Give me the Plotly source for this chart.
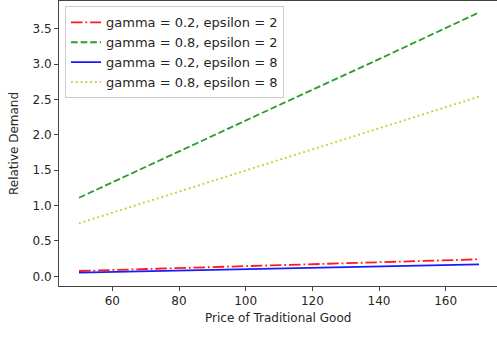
import plotly.graph_objects as go

price = [50, 80, 110, 140, 170]
g02_e2 = [0.075, 0.117, 0.158, 0.199, 0.240]
g08_e2 = [1.11, 1.77, 2.42, 3.07, 3.73]
g02_e8 = [0.053, 0.083, 0.112, 0.141, 0.170]
g08_e8 = [0.75, 1.20, 1.64, 2.09, 2.54]

names = ["gamma = 0.2, epsilon = 2", "gamma = 0.8, epsilon = 2",
         "gamma = 0.2, epsilon = 8", "gamma = 0.8, epsilon = 8"]
series = [g02_e2, g08_e2, g02_e8, g08_e8]
colors = ["#ff1a1a", "#2a9d2a", "#1a1aff", "#c8c820"]
dashes = ["11.5px,2.9px,1.8px,2.9px", "6.7px,2.9px", "solid", "1.8px,3px"]

fig = go.Figure()
for n, s, c, d in zip(names, series, colors, dashes):
    fig.add_trace(go.Scatter(x=price, y=s, mode="lines", name=n,
                             line=dict(color=c, width=1.8, dash=d)))

font = "DejaVu Sans"
axis_common = dict(showgrid=False, zeroline=False, showline=True, linecolor="#444",
                   linewidth=1, ticks="outside", ticklen=4, tickcolor="#444",
                   tickfont=dict(family=font, size=12, color="#262626"),
                   automargin=False)
fig.update_layout(
    width=497, height=338,
    margin=dict(l=59, r=0, t=1, b=52),
    plot_bgcolor="white", paper_bgcolor="white",
    xaxis=dict(range=[44.0, 175.4], tickvals=[60, 80, 100, 120, 140, 160],
               mirror=True, **axis_common),
    yaxis=dict(range=[-0.137, 3.892], tickvals=[0, 0.5, 1, 1.5, 2, 2.5, 3, 3.5],
               tickformat=".1f", **axis_common),
    legend=dict(x=0.0137, y=0.981, xanchor="left", yanchor="top",
                bgcolor="rgba(255,255,255,0.8)", bordercolor="#cccccc", borderwidth=1,
                font=dict(family=font, size=13, color="#262626"),
                tracegroupgap=0),
    showlegend=True,
    annotations=[
        dict(text="Price of Traditional Good", xref="paper", yref="paper", x=0.5, y=0,
             xanchor="center", yanchor="middle", yshift=-32, showarrow=False,
             font=dict(family=font, size=12, color="#262626")),
        dict(text="Relative Demand", xref="paper", yref="paper", x=0, y=0.5,
             xanchor="center", yanchor="middle", xshift=-45.5, textangle=-90,
             showarrow=False, font=dict(family=font, size=12, color="#262626")),
    ],
)
fig.write_html("out.html")
